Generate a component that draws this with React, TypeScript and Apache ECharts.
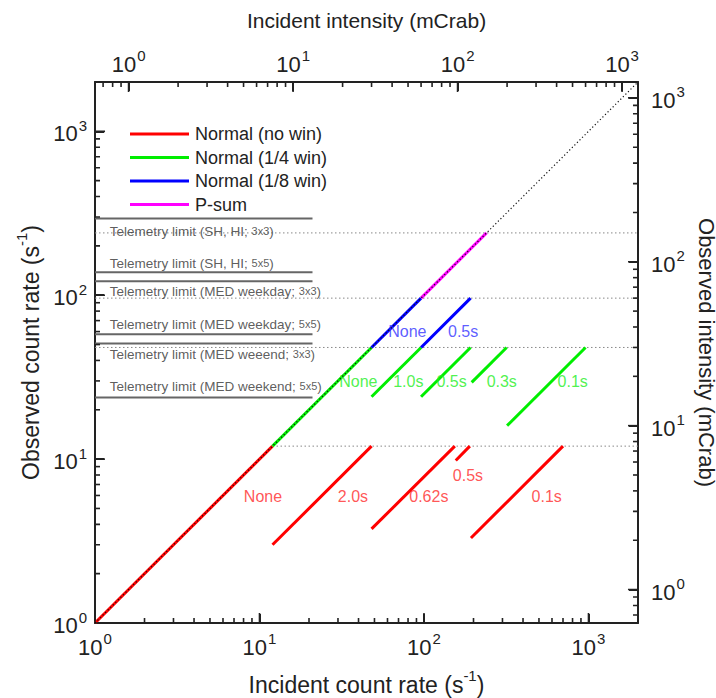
import React, { useEffect, useRef } from 'react';
import * as echarts from 'echarts';

const FONT = '"Liberation Sans", Arial, Helvetica, sans-serif';
const INK = '#222222';

// count rate (s^-1) per mCrab
const RATE_PER_MCRAB = 1.6;
const rateMin = 1;
const rateMax = 2000;
const crabMin = rateMin / RATE_PER_MCRAB;
const crabMax = rateMax / RATE_PER_MCRAB;

const majorTicks = [1, 10, 100, 1000];
const minorRateTicks = [2, 3, 4, 5, 6, 7, 8, 9, 20, 30, 40, 50, 60, 70, 80, 90, 200, 300, 400, 500, 600, 700, 800, 900];
const minorCrabTicks = [0.7, 0.8, 0.9, 2, 3, 4, 5, 6, 7, 8, 9, 20, 30, 40, 50, 60, 70, 80, 90, 200, 300, 400, 500, 600, 700, 800, 900];

// segments [[incident, observed], [incident, observed]]
const noWinSegments = [
  [[1, 1], [12, 12]],
  [[12, 3], [48, 12]],
  [[48, 3.75], [154, 12]],
  [[156, 9.8], [190, 12]],
  [[193, 3.3], [700, 12]],
];
const quarterWinSegments = [
  [[12, 12], [48, 48]],
  [[48, 24], [96, 48]],
  [[96, 24], [192, 48]],
  [[195, 29.4], [318, 48]],
  [[320, 16], [960, 48]],
];
const eighthWinSegments = [
  [[48, 48], [96, 96]],
  [[96, 48], [192, 96]],
];
const psumSegments = [
  [[96, 96], [240, 240]],
];

// saturation levels (dotted horizontal lines): [level, from incident]
const saturationLevels = [
  [12, 12],
  [48, 1],
  [96, 1],
  [240, 1],
];

const telemetryLimitLevels = [294, 138, 121.6, 57.8, 50.7, 23.8];
const telemetryLimitEnd = 21;
const telemetryLabels = [
  { text: 'Telemetry limit (SH, HI; ', mode: '3x3', y: 246 },
  { text: 'Telemetry limit (SH, HI; ', mode: '5x5', y: 157 },
  { text: 'Telemetry limit (MED weekday; ', mode: '3x3', y: 106 },
  { text: 'Telemetry limit (MED weekday; ', mode: '5x5', y: 66.5 },
  { text: 'Telemetry limit (MED weeend; ', mode: '3x3', y: 43.6 },
  { text: 'Telemetry limit (MED weekend; ', mode: '5x5', y: 27.9 },
];
const telemetryLabelX = 1.23;

const burstLabelsNoWin = [
  { text: 'None', x: 10.5, y: 5.88 },
  { text: '2.0s', x: 37, y: 5.88 },
  { text: '0.62s', x: 107, y: 5.88 },
  { text: '0.5s', x: 185, y: 7.92 },
  { text: '0.1s', x: 557, y: 5.88 },
];
const burstLabelsQuarter = [
  { text: 'None', x: 39.9, y: 29.6 },
  { text: '1.0s', x: 80.3, y: 29.6 },
  { text: '0.5s', x: 147, y: 29.6 },
  { text: '0.3s', x: 297, y: 29.6 },
  { text: '0.1s', x: 802, y: 29.6 },
];
const burstLabelsEighth = [
  { text: 'None', x: 79.2, y: 60.3 },
  { text: '0.5s', x: 173, y: 60.3 },
];

const COLORS = {
  red: '#ff0000',
  green: '#00ee00',
  blue: '#0000ff',
  magenta: '#ff00ff',
};
const TEXT_COLORS = {
  red: '#ff2a2a',
  green: '#22ee22',
  blue: '#3333ff',
};

// tick lengths expressed as multiplicative factors along a log axis (~164 px per decade)
const MAJOR_TICK_FACTOR = Math.pow(10, 10 / 164);
const MINOR_TICK_FACTOR = Math.pow(10, 5 / 164);

const powLabel = (v: number) => {
  const e = Math.log10(v);
  const r = Math.round(e);
  if (Math.abs(e - r) > 1e-6) return '';
  return `{b|10}{s|${r}}`;
};
const labelRich = {
  b: { fontSize: 22, lineHeight: 27, verticalAlign: 'bottom', color: INK, fontFamily: FONT },
  s: { fontSize: 15, lineHeight: 15, verticalAlign: 'top', color: INK, fontFamily: FONT, padding: [0, 0, 0, 1] },
};
const nameRich = {
  a: { fontSize: 23, lineHeight: 28, verticalAlign: 'bottom', color: INK, fontFamily: FONT },
  s: { fontSize: 15, lineHeight: 15, verticalAlign: 'top', color: INK, fontFamily: FONT },
};

function axisBase() {
  return {
    type: 'log',
    logBase: 10,
    axisLine: { show: true, onZero: false, lineStyle: { color: INK, width: 2 } },
    axisTick: { show: true, inside: true, length: 9, lineStyle: { color: INK, width: 2 } },
    splitLine: { show: false },
    nameLocation: 'middle',
    nameTextStyle: { fontSize: 23, color: INK, fontFamily: FONT, rich: nameRich },
  };
}

function segmentSeries(name: string, segs: number[][][], color: string) {
  return segs.map((seg) => ({
    type: 'line',
    name,
    data: seg,
    symbol: 'none',
    showSymbol: false,
    silent: true,
    z: 3,
    lineStyle: { color, width: 3 },
    itemStyle: { color },
  }));
}

function labelSeries(items: { text: string; x: number; y: number }[], color: string) {
  return {
    type: 'scatter',
    symbolSize: 0,
    silent: true,
    z: 7,
    data: items.map((it) => ({
      value: [it.x, it.y],
      label: {
        show: true,
        position: 'inside',
        formatter: it.text,
        color,
        fontSize: 16,
        fontFamily: FONT,
      },
    })),
  };
}

// each tick mark is a short two-point line series on the relevant axes
function tickLines(values: number[], side: string, factor: number) {
  return values.map((v) => {
    let data: number[][];
    let xAxisIndex = 0;
    let yAxisIndex = 0;
    if (side === 'bottom') data = [[v, rateMin], [v, rateMin * factor]];
    else if (side === 'top') {
      xAxisIndex = 1;
      data = [[v, rateMax], [v, rateMax / factor]];
    } else if (side === 'left') data = [[rateMin, v], [rateMin * factor, v]];
    else {
      yAxisIndex = 1;
      data = [[rateMax, v], [rateMax / factor, v]];
    }
    return {
      type: 'line',
      xAxisIndex,
      yAxisIndex,
      data,
      symbol: 'none',
      silent: true,
      z: 8,
      lineStyle: { color: INK, width: 1.6 },
    };
  });
}

export default function App() {
  const ref = useRef<HTMLDivElement>(null);

  useEffect(() => {
    if (!ref.current) return;
    const chart = echarts.init(ref.current, null, { renderer: 'svg' });

    const series: any[] = [];

    telemetryLimitLevels.forEach((lv) => {
      series.push({
        type: 'line',
        data: [[rateMin, lv], [telemetryLimitEnd, lv]],
        symbol: 'none',
        silent: true,
        z: 2,
        lineStyle: { color: '#666666', width: 2 },
      });
    });
    saturationLevels.forEach(([lv, from]) => {
      series.push({
        type: 'line',
        data: [[from, lv], [rateMax, lv]],
        symbol: 'none',
        silent: true,
        z: 2,
        lineStyle: { color: '#888888', width: 1, type: [1.5, 2.5] },
      });
    });

    series.push(...segmentSeries('Normal (no win)', noWinSegments, COLORS.red));
    series.push(...segmentSeries('Normal (1/4 win)', quarterWinSegments, COLORS.green));
    series.push(...segmentSeries('Normal (1/8 win)', eighthWinSegments, COLORS.blue));
    series.push(...segmentSeries('P-sum', psumSegments, COLORS.magenta));

    series.push({
      type: 'line',
      data: [[rateMin, rateMin], [rateMax, rateMax]],
      symbol: 'none',
      silent: true,
      z: 10,
      lineStyle: { color: '#111111', width: 1.2, type: [1.2, 2.4] },
    });

    series.push(labelSeries(burstLabelsNoWin, TEXT_COLORS.red));
    series.push(labelSeries(burstLabelsQuarter, TEXT_COLORS.green));
    series.push(labelSeries(burstLabelsEighth, TEXT_COLORS.blue));

    series.push({
      type: 'scatter',
      symbolSize: 0,
      silent: true,
      z: 7,
      data: telemetryLabels.map((t) => ({
        value: [telemetryLabelX, t.y],
        label: {
          show: true,
          position: 'right',
          distance: 0,
          formatter: `{t|${t.text}}{m|${t.mode}}{t|)}`,
          rich: {
            t: { fontSize: 13.5, color: '#333333', fontFamily: FONT },
            m: { fontSize: 11, color: '#333333', fontFamily: FONT },
          },
        },
      })),
    });

    series.push(...tickLines(majorTicks, 'bottom', MAJOR_TICK_FACTOR));
    series.push(...tickLines(minorRateTicks, 'bottom', MINOR_TICK_FACTOR));
    series.push(...tickLines(majorTicks, 'left', MAJOR_TICK_FACTOR));
    series.push(...tickLines(minorRateTicks, 'left', MINOR_TICK_FACTOR));
    series.push(...tickLines(majorTicks, 'top', MAJOR_TICK_FACTOR));
    series.push(...tickLines(minorCrabTicks, 'top', MINOR_TICK_FACTOR));
    series.push(...tickLines(majorTicks, 'right', MAJOR_TICK_FACTOR));
    series.push(...tickLines(minorCrabTicks, 'right', MINOR_TICK_FACTOR));

    const option: any = {
      animation: false,
      backgroundColor: '#ffffff',
      textStyle: { fontFamily: FONT },
      grid: {
        left: 95,
        right: 78,
        top: 82,
        bottom: 75,
        containLabel: false,
        outerBoundsMode: 'none',
        show: false,
      },
      legend: {
        orient: 'vertical',
        left: 125,
        top: 120,
        itemWidth: 59,
        itemHeight: 3,
        itemGap: 5.5,
        icon: 'rect',
        selectedMode: false,
        data: ['Normal (no win)', 'Normal (1/4 win)', 'Normal (1/8 win)', 'P-sum'],
        textStyle: { fontSize: 18, color: INK, fontFamily: FONT, padding: [0, 0, 0, 1] },
      },
      xAxis: [
        {
          ...axisBase(),
          position: 'bottom',
          min: rateMin,
          max: rateMax,
          name: '{a|Incident count rate (s}{s|-1}{a|)}',
          nameGap: 45,
          axisLabel: { formatter: powLabel, rich: labelRich, margin: 8, showMaxLabel: false },
        },
        {
          ...axisBase(),
          position: 'top',
          min: crabMin,
          max: crabMax,
          name: 'Incident intensity (mCrab)',
          nameGap: 51,
          nameTextStyle: { fontSize: 21, color: INK, fontFamily: FONT },
          axisLabel: { formatter: powLabel, rich: labelRich, margin: 7 },
        },
      ],
      yAxis: [
        {
          ...axisBase(),
          position: 'left',
          min: rateMin,
          max: rateMax,
          name: '{a|Observed count rate (s}{s|-1}{a|)}',
          nameGap: 51,
          nameRotate: 90,
          axisLabel: { formatter: powLabel, rich: labelRich, margin: 8, showMaxLabel: false },
        },
        {
          ...axisBase(),
          position: 'right',
          min: crabMin,
          max: crabMax,
          name: 'Observed intensity (mCrab)',
          nameGap: 46,
          nameRotate: -90,
          nameTextStyle: { fontSize: 22, color: INK, fontFamily: FONT },
          axisLabel: { formatter: powLabel, rich: labelRich, margin: 13 },
        },
      ],
      series,
    };

    chart.setOption(option);
    return () => chart.dispose();
  }, []);

  return (
    <div
      ref={ref}
      style={{ position: 'fixed', left: 0, top: 0, width: 716, height: 698, background: '#fff' }}
    />
  );
}
